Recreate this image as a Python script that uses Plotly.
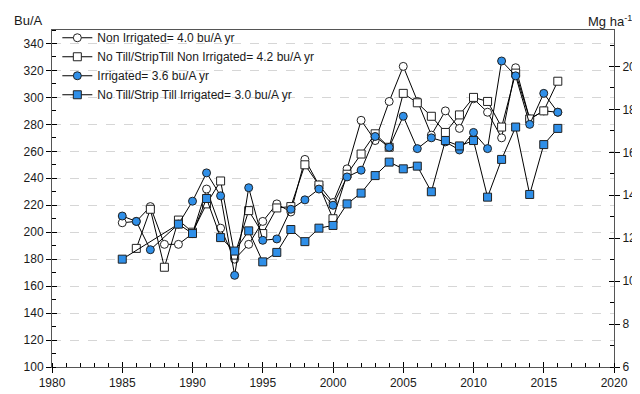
import plotly.graph_objects as go

years = list(range(1985, 2017))

non_irrigated = [207, 208, 219, 191, 191, 199, 232, 203, 180, 191, 208, 221, 215, 254, 235, 222,
                 247, 283, 268, 297, 323, 297, 272, 290, 277, 299, 289, 270, 322, 284, 290, 289]
nt_non_irrigated = [None, 188, 217, 174, 209, 200, 221, 238, 183, 216, 199, 218, 219, 250, 235, 210,
                    243, 258, 273, 263, 303, 296, 286, 274, 287, 300, 297, 278, 318, 284, 290, 312]
irrigated = [212, 208, 187, None, 206, 223, 244, 227, 168, 233, 194, 195, 217, 224, 232, 220,
             241, 246, 271, 263, 286, 262, 270, 267, 261, 274, 262, 327, 316, 280, 303, 289]
nt_irrigated = [180, None, None, None, 206, 199, 225, 196, 186, 201, 178, 185, 202, 193, 203, 205,
                221, 229, 242, 252, 247, 249, 230, 268, 264, 268, 226, 254, 278, 228, 265, 277]

names = ["Non Irrigated= 4.0 bu/A yr",
         "No Till/StripTill Non Irrigated= 4.2 bu/A yr",
         "Irrigated= 3.6 bu/A yr",
         "No Till/Strip Till Irrigated= 3.0 bu/A yr"]

BLUE = "#2F8FE8"
FONT = "Liberation Sans"
TXT = "#1a1a1a"
AX = "#555555"

fig = go.Figure()
specs = [(non_irrigated, "circle", "white"),
         (nt_non_irrigated, "square", "white"),
         (irrigated, "circle", BLUE),
         (nt_irrigated, "square", BLUE)]
for (vals, sym, fill), nm in zip(specs, names):
    fig.add_trace(go.Scatter(
        x=years, y=vals, name=nm, mode="lines+markers", connectgaps=True,
        line=dict(color="black", width=1),
        marker=dict(symbol=sym, size=8, color=fill, line=dict(color="#222222", width=1)),
    ))

# invisible traces to activate secondary axes
fig.add_trace(go.Scatter(x=[None], y=[None], yaxis="y2", showlegend=False, hoverinfo="skip"))
fig.add_trace(go.Scatter(x=[None], y=[None], yaxis="y3", showlegend=False, hoverinfo="skip"))
fig.add_trace(go.Scatter(x=[None], y=[None], yaxis="y4", showlegend=False, hoverinfo="skip"))
fig.add_trace(go.Scatter(x=[None], y=[None], xaxis="x2", showlegend=False, hoverinfo="skip"))

tickfont = dict(family=FONT, size=12, color=TXT)

fig.update_layout(
    width=640, height=394,
    margin=dict(l=44, r=28, t=22, b=27),
    paper_bgcolor="white", plot_bgcolor="white",
    font=dict(family=FONT, size=12, color=TXT),
    showlegend=True,
    legend=dict(x=0.0095, y=1.02, xanchor="left", yanchor="top",
                bgcolor="rgba(0,0,0,0)", font=dict(family=FONT, size=12, color=TXT),
                tracegroupgap=0),
    xaxis=dict(range=[1980, 2020], dtick=5, tick0=1980, ticks="outside", ticklen=5,
               tickcolor="black", showline=True, linecolor=AX, linewidth=1, mirror=True,
               showgrid=False, zeroline=False, tickfont=tickfont,
               minor=dict(dtick=1, ticks="inside", ticklen=4, tickcolor="black", showgrid=False)),
    xaxis2=dict(range=[1980, 2020], dtick=5, tick0=1980, ticks="inside", ticklen=5,
                tickcolor="black", overlaying="x", showline=False, showgrid=False,
                showticklabels=False, zeroline=False, anchor="y"),
    yaxis=dict(range=[100, 350], dtick=20, tick0=100, ticks="outside", ticklen=5,
               tickcolor="black", showline=True, linecolor=AX, linewidth=1,
               showgrid=True, gridcolor="#d6d6d6", griddash="dash", gridwidth=1,
               zeroline=False, tickfont=tickfont,
               minor=dict(dtick=10, ticks="inside", ticklen=4, tickcolor="black", showgrid=False)),
    yaxis3=dict(range=[100, 350], dtick=20, tick0=100, ticks="inside", ticklen=5,
                tickcolor="black", overlaying="y", side="left", showline=False,
                showgrid=False, showticklabels=False, zeroline=False),
    yaxis2=dict(range=[6, 21.7], dtick=2, tick0=6, ticks="outside", ticklen=5,
                tickcolor="black", overlaying="y", side="right", showline=True,
                linecolor=AX, linewidth=1, showgrid=False, zeroline=False, tickfont=tickfont,
                minor=dict(dtick=1, ticks="inside", ticklen=4, tickcolor="black", showgrid=False)),
    yaxis4=dict(range=[6, 21.7], dtick=2, tick0=6, ticks="inside", ticklen=5,
                tickcolor="black", overlaying="y", side="right", showline=False,
                showgrid=False, showticklabels=False, zeroline=False),
)

fig.add_annotation(text="Bu/A", xref="paper", yref="paper", x=-0.072, y=1.028,
                   xanchor="left", yanchor="middle", showarrow=False,
                   font=dict(family=FONT, size=13, color=TXT))
fig.add_annotation(text="Mg ha<sup>-1</sup>", xref="paper", yref="paper", x=1.036, y=1.028,
                   xanchor="right", yanchor="middle", showarrow=False,
                   font=dict(family=FONT, size=13, color=TXT))

fig.write_html("out.html")
